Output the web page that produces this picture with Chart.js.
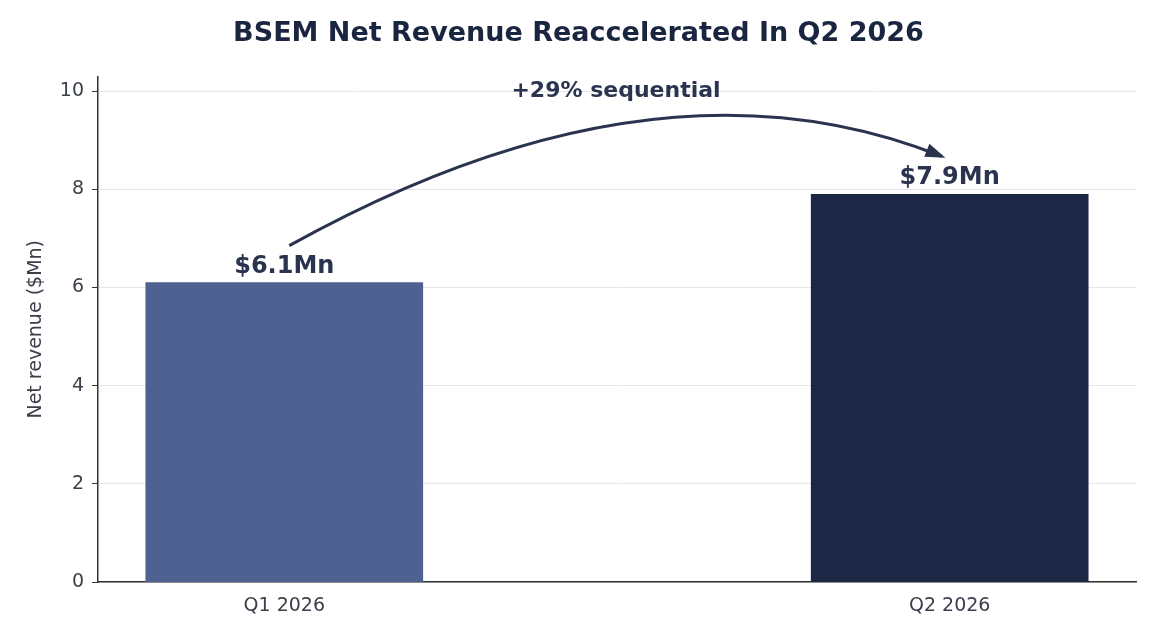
<!DOCTYPE html>
<html><head><meta charset="utf-8">
<script src="https://cdn.jsdelivr.net/npm/chart.js@4"></script>
<style>html,body{margin:0;padding:0;background:#fff}#w{width:1176px;height:639px}</style>
</head><body><div id="w"><canvas id="c"></canvas></div>
<script>
const categories = ["Q1 2026", "Q2 2026"];
const revenue = [6.1, 7.9];
const valueLabels = ["$6.1Mn", "$7.9Mn"];
const barColors = ["#4f6190", "#1b2744"];
const yTicks = [0, 2, 4, 6, 8, 10];
const annotationText = "+29% sequential";

const overlay = {
  id: 'overlay',
  afterDatasetsDraw(chart) {
    const ctx = chart.ctx, x = chart.scales.x, y = chart.scales.y;
    ctx.save();
    ctx.fillStyle = '#2a344f';
    ctx.font = 'bold 24px "DejaVu Sans", sans-serif';
    ctx.textAlign = 'center'; ctx.textBaseline = 'bottom';
    revenue.forEach((v, i) => ctx.fillText(valueLabels[i], x.getPixelForValue(i), y.getPixelForValue(v) - 4));
    const x0 = x.getPixelForValue(0) + 5, y0 = y.getPixelForValue(revenue[0]) - 37;
    const x1 = x.getPixelForValue(1) - 8, y1 = y.getPixelForValue(revenue[1]) - 38;
    const cx = (x0 + x1) / 2 + 40, cy = y.getPixelForValue(11.0);
    ctx.strokeStyle = '#2a344f'; ctx.lineWidth = 3;
    ctx.beginPath(); ctx.moveTo(x0, y0); ctx.quadraticCurveTo(cx, cy, x1, y1); ctx.stroke();
    const ang = Math.atan2(y1 - cy, x1 - cx);
    ctx.beginPath();
    ctx.moveTo(x1 + 4 * Math.cos(ang), y1 + 4 * Math.sin(ang));
    ctx.lineTo(x1 - 16 * Math.cos(ang) + 7 * Math.sin(ang), y1 - 16 * Math.sin(ang) - 7 * Math.cos(ang));
    ctx.lineTo(x1 - 16 * Math.cos(ang) - 7 * Math.sin(ang), y1 - 16 * Math.sin(ang) + 7 * Math.cos(ang));
    ctx.closePath(); ctx.fill();
    ctx.font = 'bold 22px "DejaVu Sans", sans-serif';
    ctx.fillText(annotationText, (x.getPixelForValue(0) + x.getPixelForValue(1)) / 2 - 1, y.getPixelForValue(10) + 11);
    ctx.restore();
  }
};

new Chart(document.getElementById('c'), {
  type: 'bar',
  data: { datasets: [{ data: revenue.map((v, i) => ({ x: i, y: v })), backgroundColor: barColors, barThickness: 277 }] },
  options: {
    responsive: true, maintainAspectRatio: false, animation: false,
    layout: { padding: { top: 14, right: 40, left: 21, bottom: 16 } },
    plugins: {
      legend: { display: false }, tooltip: { enabled: false },
      title: { display: true, text: 'BSEM Net Revenue Reaccelerated In Q2 2026', color: '#1a2540',
        font: { family: '"DejaVu Sans", sans-serif', size: 27, weight: 'bold' }, padding: { top: 4, bottom: 26 } }
    },
    scales: {
      x: { type: 'linear', min: -0.28, max: 1.28, offset: false,
        afterBuildTicks: s => { s.ticks = categories.map((c, i) => ({ value: i })); },
        ticks: { callback: (v) => categories[v], color: '#3a3f4a', font: { family: '"DejaVu Sans", sans-serif', size: 19 }, padding: 6 },
        grid: { display: false, drawTicks: true, tickLength: 6, tickColor: '#333', offset: false },
        border: { color: '#333', width: 1.5 } },
      y: { min: 0, max: 10.3,
        afterBuildTicks: s => { s.ticks = yTicks.map(v => ({ value: v })); },
        ticks: { color: '#3a3f4a', font: { family: '"DejaVu Sans", sans-serif', size: 19 }, padding: 8 },
        grid: { color: '#e4e6ea', tickLength: 6, tickColor: '#333' },
        border: { color: '#333', width: 1.5 },
        title: { display: true, text: 'Net revenue ($Mn)', color: '#3a3f4a', font: { family: '"DejaVu Sans", sans-serif', size: 19 } } }
    }
  },
  plugins: [overlay]
});
</script></body></html>
